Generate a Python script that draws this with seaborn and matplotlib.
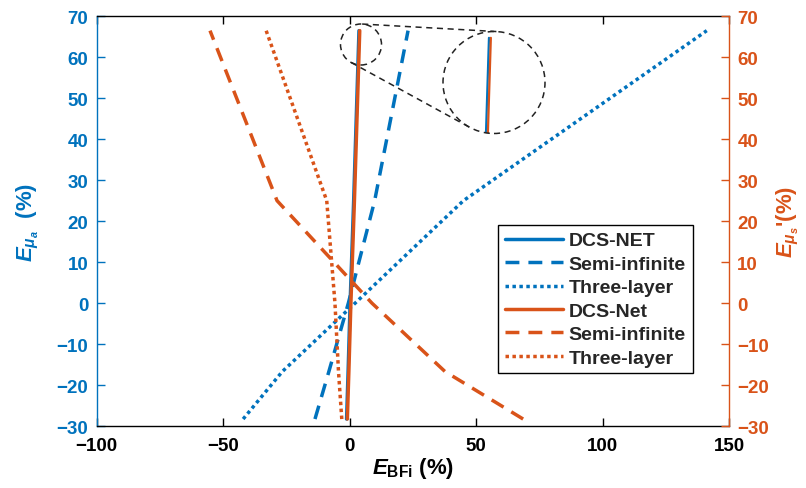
import matplotlib
matplotlib.use("Agg")
import matplotlib.pyplot as plt
import matplotlib.transforms as mtransforms
from matplotlib.patches import Circle
from matplotlib.lines import Line2D
import numpy as np
import seaborn as sns

sns.set_theme(style="white")
plt.rcParams["font.family"] = ["Liberation Sans", "DejaVu Sans"]
plt.rcParams["font.weight"] = "bold"
plt.rcParams["axes.labelweight"] = "bold"
plt.rcParams["mathtext.fontset"] = "custom"
plt.rcParams["mathtext.it"] = "Liberation Sans:italic:bold"
plt.rcParams["mathtext.bf"] = "Liberation Sans:bold"
plt.rcParams["mathtext.rm"] = "Liberation Sans:bold"
plt.rcParams["mathtext.sf"] = "Liberation Sans:bold"

BLUE = "#0072BD"
ORANGE = "#D95319"

# ---- data ----
y_err = [-28.3, -16.7, 0.0, 25.0, 66.5]          # E_mua (left) / E_mus' (right), %
blue_dcs = [-1.2, -0.6, 0.2, 1.6, 3.7]            # E_BFi, DCS-NET
blue_semi = [-13.7, -8.2, -0.5, 9.9, 23.1]        # E_BFi, Semi-infinite
blue_three = [-42.1, -26.6, 2.2, 45.0, 141.2]     # E_BFi, Three-layer
orange_dcs = [-0.9, -0.3, 0.5, 1.9, 4.0]
orange_semi = [68.6, 37.7, 8.8, -28.7, -55.2]
orange_three = [-3.1, -4.4, -5.8, -9.05, -33.0]

blue_labels = ["DCS-NET", "Semi-infinite", "Three-layer"]
orange_labels = ["DCS-Net", "Semi-infinite", "Three-layer"]
x_ticks = [-100, -50, 0, 50, 100, 150]
y_ticks = list(range(-30, 71, 10))

W_PX, H_PX = 806, 489
fig = plt.figure(figsize=(W_PX / 100, H_PX / 100), dpi=100)
ax_l, ax_r, ax_t, ax_b = 96.7, 729.0, 17.3, 427.0
ax = fig.add_axes([ax_l / W_PX, 1 - ax_b / H_PX, (ax_r - ax_l) / W_PX, (ax_b - ax_t) / H_PX])
ax2 = ax.twinx()

STYLES = {"solid": "-", "dash": (0, (4, 2.6)), "dot": (0, (1, 1))}


def draw(axis, xs, color, style, lw=2.5):
    sns.lineplot(x=xs, y=y_err, ax=axis, sort=False, estimator=None,
                 color=color, lw=lw, legend=False)
    line = axis.lines[-1]
    line.set_linestyle(STYLES[style])
    return line


handles = []
for xs, st in zip([blue_dcs, blue_semi, blue_three], ["solid", "dash", "dot"]):
    handles.append(draw(ax, xs, BLUE, st))
for xs, st in zip([orange_dcs, orange_semi, orange_three], ["solid", "dash", "dot"]):
    handles.append(draw(ax2, xs, ORANGE, st))

for a in (ax, ax2):
    a.set_xlim(-100, 150)
    a.set_ylim(-30, 70)
ax.set_xticks(x_ticks)
ax.set_yticks(y_ticks)
ax2.set_yticks(y_ticks)

ax.tick_params(axis="x", direction="in", length=6, width=1, top=True, bottom=True,
               labelsize=13.5, pad=8, colors="black")
ax.tick_params(axis="y", direction="in", length=6, width=1, left=True, right=False,
               labelsize=13.5, pad=6, colors=BLUE)
ax2.tick_params(axis="y", direction="in", length=6, width=1, right=True, left=False,
                labelsize=13.5, pad=6, colors=ORANGE)

for s in ("top", "bottom"):
    ax.spines[s].set_color("black")
    ax.spines[s].set_linewidth(1.0)
ax.spines["left"].set_color(BLUE)
ax.spines["left"].set_linewidth(1.0)
ax.spines["right"].set_visible(False)
for s in ("top", "bottom", "left"):
    ax2.spines[s].set_visible(False)
ax2.spines["right"].set_color(ORANGE)
ax2.spines["right"].set_linewidth(1.0)

ax.set_xlabel(r"$E_{\mathrm{BFi}}$ (%)", fontsize=16, color="black")
ax.xaxis.set_label_coords(0.5, -0.072)
ax.set_ylabel(r"$E_{\mu_a}$  (%)", fontsize=16, color=BLUE)
ax.yaxis.set_label_coords(-0.088, 0.5)
ax2.set_ylabel(r"$E_{\mu_s}$'(%)", fontsize=16, color=ORANGE)
ax2.yaxis.set_label_coords(1.072, 0.5)

leg = ax2.legend(handles, blue_labels + orange_labels, loc="upper right",
                 bbox_to_anchor=(692.7 / W_PX, 1 - 226 / H_PX),
                 bbox_transform=fig.transFigure,
                 prop={"weight": "bold", "size": 14}, frameon=True, fancybox=False,
                 edgecolor="black", framealpha=1, handlelength=3.0,
                 handletextpad=0.3, labelspacing=0.3, borderpad=0.35, borderaxespad=0)
leg.get_frame().set_linewidth(1.0)

# ---- magnifier decoration ----
ident = mtransforms.IdentityTransform()
src_c, src_r = np.array([361.0, 45.5]), 20.5     # image px (y down)
dst_c, dst_r = np.array([494.0, 83.5]), 51.0
view_c = np.array([361.0, 49.6])
mag_r = src_r


def disp(p):
    return np.array([p[0], H_PX - p[1]])


axins = fig.add_axes([(dst_c[0] - dst_r) / W_PX, (H_PX - dst_c[1] - dst_r) / H_PX,
                      2 * dst_r / W_PX, 2 * dst_r / H_PX])
axins.axis("off")
fig.canvas.draw()
inv = ax.transData.inverted()
lo = inv.transform(disp(view_c) + np.array([-mag_r, -mag_r]))
hi = inv.transform(disp(view_c) + np.array([mag_r, mag_r]))
sns.lineplot(x=blue_dcs, y=y_err, ax=axins, sort=False, estimator=None, color=BLUE, lw=1.6, legend=False)
sns.lineplot(x=orange_dcs, y=y_err, ax=axins, sort=False, estimator=None, color=ORANGE, lw=1.6, legend=False)
axins.set_xlim(lo[0], hi[0])
axins.set_ylim(lo[1], hi[1])
clip = Circle((0.5, 0.5), 0.5, transform=axins.transAxes)
for ln in axins.lines:
    ln.set_clip_path(clip)

circ_kw = dict(fill=False, lw=1.1, ec="#222222", ls=(0, (4, 3)), transform=ident, zorder=5)
fig.add_artist(Circle(disp(src_c), src_r, **circ_kw))
fig.add_artist(Circle(disp(dst_c), dst_r, **circ_kw))

d = dst_c - src_c
dist = np.hypot(*d)
theta = np.arctan2(d[1], d[0])
phi = np.arccos((src_r - dst_r) / dist)
for sgn in (1, -1):
    n = np.array([np.cos(theta + sgn * phi), np.sin(theta + sgn * phi)])
    p1 = disp(src_c + src_r * n)
    p2 = disp(dst_c + dst_r * n)
    fig.add_artist(Line2D([p1[0], p2[0]], [p1[1], p2[1]], transform=ident,
                          color="#222222", lw=1.1, ls=(0, (4, 3)), zorder=5))

fig.savefig("out.png", dpi=100)
